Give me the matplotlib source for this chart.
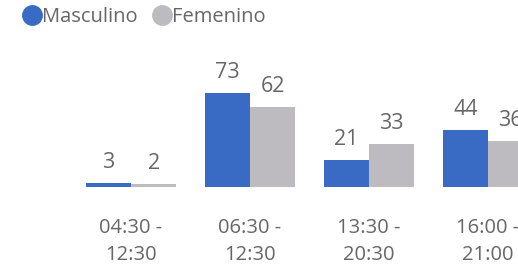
import matplotlib.pyplot as plt
from matplotlib.lines import Line2D
import numpy as np

# datos
turnos = ["04:30 -\n12:30", "06:30 -\n12:30", "13:30 -\n20:30", "16:00 -\n21:00"]
masculino = [3, 73, 21, 44]
femenino = [2, 62, 33, 36]

azul = "#3A6BC4"
gris = "#BDBBC0"
texto = "#666666"

plt.rcParams['font.family'] = ['Open Sans', 'DejaVu Sans']

fig = plt.figure(figsize=(5.18, 2.68), dpi=100)
# eje: base de las barras a 81 px del borde inferior
ax = fig.add_axes([0, 81 / 268, 1, 187 / 268])

x = np.arange(len(turnos))
w = 0.382
b1 = ax.bar(x - w / 2, masculino, w, color=azul)
b2 = ax.bar(x + w / 2, femenino, w, color=gris)

for bars in (b1, b2):
    for r in bars:
        ax.annotate(f"{r.get_height():.0f}", (r.get_x() + r.get_width() / 2, r.get_height()),
                    xytext=(0, 10.8), textcoords="offset points", ha="center", va="baseline",
                    fontsize=15.5, color=texto)

ax.set_xlim(-131 / 119, (518 - 131) / 119)
ax.set_ylim(0, 187 / 1.29)
ax.set_yticks([])
ax.set_xticks(x)
ax.set_xticklabels(turnos, fontsize=14.5, color=texto, linespacing=1.5)
ax.tick_params(axis="x", length=0, pad=22)
for s in ax.spines.values():
    s.set_visible(False)

handles = [Line2D([], [], marker="o", linestyle="", markersize=14, color=azul),
           Line2D([], [], marker="o", linestyle="", markersize=14, color=gris)]
fig.legend(handles, ["Masculino", "Femenino"], loc="upper left", bbox_to_anchor=(0.012, 1.04),
           ncol=2, frameon=False, handlelength=0.8, handletextpad=0.1, columnspacing=0.8,
           prop={"size": 14.5}, labelcolor=texto)

plt.savefig("out.png")
